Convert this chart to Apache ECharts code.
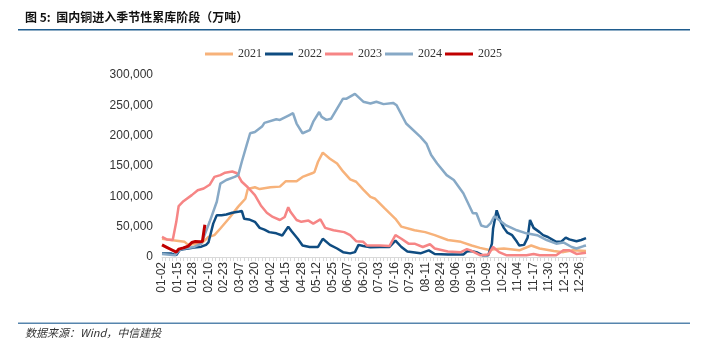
<!DOCTYPE html>
<html><head><meta charset="utf-8">
<script src="https://cdn.jsdelivr.net/npm/echarts@6/dist/echarts.min.js"></script>
<style>html,body{margin:0;padding:0;background:#fff}#c{width:704px;height:360px}</style>
</head><body><div id="c"></div>
<script>
// Category axis: daily mm-dd labels (leap-year calendar), with the days absent from the source removed
const missingDays = ['05-01','10-01','10-02','10-03','10-04','10-05','10-06','10-07'];
const categories = [];
for (let d = new Date(Date.UTC(2024,0,2)); d.getUTCFullYear() === 2024; d.setUTCDate(d.getUTCDate()+1)) {
  const s = String(d.getUTCMonth()+1).padStart(2,'0') + '-' + String(d.getUTCDate()).padStart(2,'0');
  if (!missingDays.includes(s)) categories.push(s);
}
const seriesNames = ['2021','2022','2023','2024','2025'];
const yTicks = [0, 50000, 100000, 150000, 200000, 250000, 300000];

const s2021 = [['01-02',30000],['01-11',27500],['01-21',25000],['01-24',20000],['02-04',22000],['02-10',33000],['02-15',36000],['02-20',47000],['02-27',63000],['03-06',83000],['03-12',96000],['03-14',112000],['03-20',115000],['03-24',112000],['04-02',115000],['04-10',116000],['04-15',125000],['04-24',125000],['04-29',132000],['05-08',138000],['05-10',140000],['05-13',157000],['05-17',172000],['05-23',162000],['05-29',154000],['06-03',141000],['06-09',128000],['06-14',124000],['06-20',111000],['06-26',99000],['06-30',96000],['07-08',80000],['07-17',63000],['07-22',50000],['08-02',44000],['08-11',41000],['08-19',36000],['08-30',28000],['09-10',25000],['09-19',19000],['09-26',15000],['10-10',12000],['10-23',14000],['11-05',11000],['11-15',19000],['11-22',14000],['12-04',10000],['12-12',8000],['12-20',11000],['12-31',10000]];

const s2022 = [['01-02',5600],['01-10',5600],['01-14',3000],['01-17',12000],['01-24',14000],['01-29',15500],['02-04',17000],['02-08',20000],['02-10',24000],['02-14',55000],['02-17',69000],['02-21',69000],['02-25',70000],['03-01',73000],['03-07',75000],['03-09',76000],['03-11',63000],['03-15',62000],['03-20',58000],['03-24',48000],['03-28',45000],['04-01',41000],['04-07',39000],['04-12',35500],['04-17',50000],['04-20',42000],['04-25',30000],['04-29',19000],['05-06',16500],['05-13',16500],['05-17',30000],['05-23',20000],['05-29',14000],['06-03',8000],['06-09',6000],['06-13',8000],['06-16',20000],['06-20',18000],['06-26',16000],['07-04',16500],['07-12',16500],['07-17',27000],['07-22',16500],['07-27',9000],['08-07',6000],['08-14',11000],['08-19',5000],['08-30',4000],['09-12',4000],['09-15',9000],['09-18',10000],['09-23',8000],['09-28',3000],['10-10',3000],['10-13',22000],['10-14',47000],['10-17',77000],['10-20',60000],['10-23',48000],['10-26',40000],['10-30',36000],['11-03',25000],['11-05',19000],['11-09',20000],['11-12',32000],['11-14',61000],['11-17',48000],['11-22',41000],['11-25',36000],['11-29',33000],['12-06',25000],['12-10',25000],['12-14',32000],['12-17',29000],['12-23',26000],['12-27',28000],['12-31',31000]];

const s2023 = [['01-02',33000],['01-06',29000],['01-11',28000],['01-12',30000],['01-14',58000],['01-16',84000],['01-20',92000],['01-27',102000],['02-01',110000],['02-06',113000],['02-11',119000],['02-15',132000],['02-20',135000],['02-24',139000],['03-01',141000],['03-05',138000],['03-09',124000],['03-14',115000],['03-20',102000],['03-25',85000],['03-30',73000],['04-04',66000],['04-10',61000],['04-14',66000],['04-17',82000],['04-19',74000],['04-24',61000],['04-28',58000],['05-05',60000],['05-09',55000],['05-15',62000],['05-19',48000],['05-26',44000],['06-04',41000],['06-09',36000],['06-14',26000],['06-20',25000],['06-23',19000],['07-04',19000],['07-12',18000],['07-17',36000],['07-22',30000],['07-28',22000],['08-02',22000],['08-09',16500],['08-15',21000],['08-19',14000],['08-30',9000],['09-10',8000],['09-15',13000],['09-18',11000],['09-26',3000],['10-10',4000],['10-14',16500],['10-19',8000],['10-25',3000],['11-11',3000],['11-17',5000],['11-22',3000],['12-06',3000],['12-12',11000],['12-17',11000],['12-23',5000],['12-31',7000]];

const s2024 = [['01-02',5000],['01-13',3000],['01-15',8000],['01-18',13000],['01-29',16500],['02-04',22000],['02-11',58000],['02-17',91000],['02-20',121000],['02-25',127000],['03-03',132000],['03-06',135000],['03-09',157000],['03-13',184000],['03-16',204000],['03-20',206000],['03-26',215000],['03-28',221000],['04-07',227000],['04-10',226000],['04-18',234000],['04-21',237000],['04-24',220000],['04-29',204000],['05-06',209000],['05-09',223000],['05-14',239000],['05-16',231000],['05-20',226000],['05-24',228000],['05-30',248000],['06-03',261000],['06-06',261000],['06-13',269000],['06-20',256000],['06-26',253000],['07-01',256000],['07-07',252000],['07-15',254000],['07-18',250000],['07-26',220000],['08-07',198000],['08-12',187000],['08-16',168000],['08-21',154000],['08-29',135000],['09-04',127000],['09-12',105000],['09-20',72000],['09-23',72000],['09-27',52000],['09-30',50000],['10-09',50000],['10-12',56000],['10-15',67000],['10-19',61000],['10-25',52000],['11-03',44000],['11-11',39000],['11-20',36000],['11-28',28000],['12-06',22000],['12-12',24000],['12-19',16500],['12-23',14000],['12-29',18000],['12-31',19000]];

const s2025 = [['01-02',20000],['01-06',16000],['01-10',12000],['01-14',8000],['01-16',13000],['01-20',15000],['01-24',18000],['01-27',24000],['01-30',25500],['02-03',25000],['02-05',26000],['02-06',40000],['02-07',53000]];

const colors = ['#F7B27A','#0F4C81','#F68585','#87A9C6','#C00000'];
const allData = [s2021, s2022, s2023, s2024, s2025];

const chart = echarts.init(document.getElementById('c'), null, {renderer:'canvas'});
chart.setOption({
  animation: false,
  backgroundColor: '#fff',
  color: colors,
  graphic: [
    {type:'text', left: 25, top: 11, style:{text:'图 5:  国内铜进入季节性累库阶段（万吨）', font:'bold 12px "Noto Sans CJK SC", sans-serif', fill:'#111'}},
    {type:'rect', shape:{x:18, y:29, width:672, height:1.6}, style:{fill:'#1F5C8E'}},
    {type:'rect', shape:{x:18, y:322.5, width:672, height:1.6}, style:{fill:'#5685AD'}},
    {type:'text', left: 25, top: 327, style:{text:'数据来源：Wind，中信建投', font:'italic 11px "Noto Sans CJK SC", serif', fill:'#333'}}
  ],
  legend: {
    data: seriesNames, left: 200, top: 43, icon: 'rect', itemWidth: 28, itemHeight: 3, itemGap: 3,
    textStyle: {fontFamily: 'Liberation Serif', fontSize: 12, color: '#333'}
  },
  grid: {left: 162, right: 118, top: 75, bottom: 103, containLabel: false},
  xAxis: {
    type: 'category', data: categories, boundaryGap: false,
    axisLine: {lineStyle: {color: '#d9d9d9', width: 1}},
    axisTick: {show: true, interval: 2, length: 4, lineStyle: {color: '#d9d9d9'}},
    axisLabel: {rotate: 90, interval: 12, fontSize: 12, margin: 5, color: '#333', fontFamily: 'Liberation Sans'},
    splitLine: {show: false}
  },
  yAxis: {
    type: 'value', min: yTicks[0], max: yTicks[yTicks.length-1], interval: yTicks[1]-yTicks[0],
    axisLine: {show: false}, axisTick: {show: false}, splitLine: {show: false},
    axisLabel: {fontSize: 12, color: '#333', margin: 9, fontFamily: 'Liberation Sans',
      formatter: v => v.toLocaleString('en-US')}
  },
  series: seriesNames.map((n, i) => ({
    name: n, type: 'line', data: allData[i], showSymbol: false, symbol: 'none',
    lineStyle: {width: i === 4 ? 3 : 2.5, color: colors[i]}, itemStyle: {color: colors[i]},
    z: 2 + i
  }))
});
</script></body></html>
